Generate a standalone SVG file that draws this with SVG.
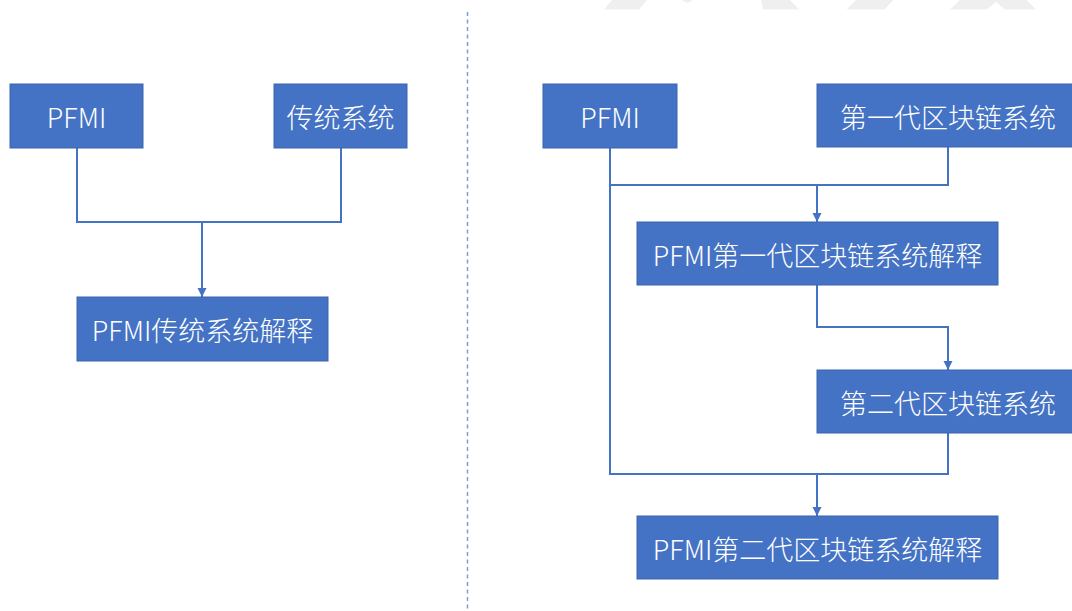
<svg xmlns="http://www.w3.org/2000/svg" width="1072" height="611" viewBox="0 0 1072 611">
<style>
.box{fill:#4472C4;stroke:#3A64AE;stroke-width:1}
.lbl{fill:#FFFFFF;font-family:"Noto Sans CJK SC","Noto Sans",sans-serif;font-size:27px;font-weight:300;text-anchor:middle;dominant-baseline:central}
.ln{fill:none;stroke:#4472C4;stroke-width:2}
.wm{fill:#EFEFEF}
</style>
<defs>
<marker id="arr" viewBox="0 0 10 10" refX="10" refY="5" markerWidth="9" markerHeight="10" markerUnits="userSpaceOnUse" orient="auto">
<path d="M0,0 L10,5 L0,10 z" fill="#4472C4"/>
</marker>
</defs>
<rect width="1072" height="611" fill="#FFFFFF"/>
<g id="watermark">
<polygon class="wm" points="604,9.5 639,9.5 647,0 612,0"/>
<polygon class="wm" points="682,0 687,3 693,0"/>
<polygon class="wm" points="761,0 763.3,9.5 799,9.5 790,0"/>
<polygon class="wm" points="846.7,9.5 884.3,9.5 893.3,0 856,0"/>
<polygon class="wm" points="950,9.5 986.7,9.5 996,1.7 1005,9.5 1036,9.5 1026.7,0 960,0"/>
</g>
<line id="divider" x1="467.5" y1="12" x2="467.5" y2="611" stroke="#7F9ED6" stroke-width="1.5" stroke-dasharray="4 3.5"/>
<g id="connectors">
<path class="ln" d="M77,148 V222 H341 V148"/>
<path class="ln" d="M202,222 V297" marker-end="url(#arr)"/>
<path class="ln" d="M610,148 V474 H948 V433"/>
<path class="ln" d="M948,147 V185 H610"/>
<path class="ln" d="M817,185 V222" marker-end="url(#arr)"/>
<path class="ln" d="M817,285 V327 H948 V370" marker-end="url(#arr)"/>
<path class="ln" d="M817,474 V516" marker-end="url(#arr)"/>
</g>
<g id="n-pfmi-left">
<rect class="box" x="10" y="84" width="133" height="64"/>
<text class="lbl" x="76.5" y="116">PFMI</text>
</g>
<g id="n-traditional">
<rect class="box" x="274" y="84" width="133" height="64"/>
<text class="lbl" x="340.5" y="116">传统系统</text>
</g>
<g id="n-traditional-expl">
<rect class="box" x="77" y="297" width="251" height="64"/>
<text class="lbl" x="202.5" y="329">PFMI传统系统解释</text>
</g>
<g id="n-pfmi-right">
<rect class="box" x="543" y="84" width="134" height="64"/>
<text class="lbl" x="610" y="116">PFMI</text>
</g>
<g id="n-gen1">
<rect class="box" x="817" y="84" width="262" height="63"/>
<text class="lbl" x="948" y="116">第一代区块链系统</text>
</g>
<g id="n-gen1-expl">
<rect class="box" x="637" y="222" width="361" height="63"/>
<text class="lbl" x="817.5" y="254">PFMI第一代区块链系统解释</text>
</g>
<g id="n-gen2">
<rect class="box" x="817" y="370" width="262" height="63"/>
<text class="lbl" x="948" y="402">第二代区块链系统</text>
</g>
<g id="n-gen2-expl">
<rect class="box" x="637" y="516" width="361" height="63"/>
<text class="lbl" x="817.5" y="548">PFMI第二代区块链系统解释</text>
</g>
</svg>
